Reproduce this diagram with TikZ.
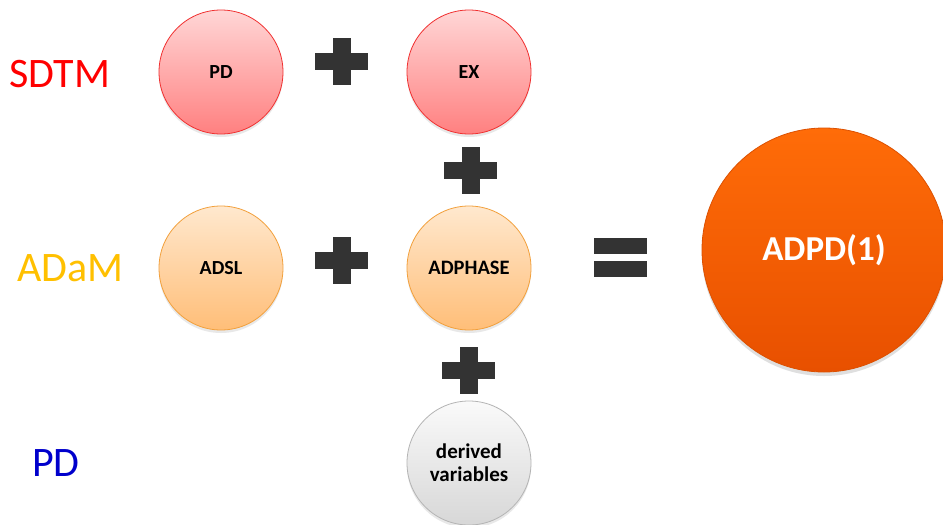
\documentclass[tikz,border=0pt]{standalone}
\usepackage{fontspec}
\setmainfont{Carlito}
\usetikzlibrary{shadows}
\definecolor{sdtmred}{HTML}{FF0000}
\definecolor{adamyel}{HTML}{FFC000}
\definecolor{pdblue}{HTML}{0000CC}
\definecolor{opdark}{HTML}{333333}
\definecolor{redborder}{HTML}{F03030}
\definecolor{redtop}{HTML}{FFD6D6}
\definecolor{redbot}{HTML}{FF8080}
\definecolor{oraborder}{HTML}{F2A03C}
\definecolor{oratop}{HTML}{FFE8CE}
\definecolor{orabot}{HTML}{FFBE78}
\definecolor{grayborder}{HTML}{B4B4B4}
\definecolor{graytop}{HTML}{FAFAFA}
\definecolor{graybot}{HTML}{D7D7D7}
\definecolor{bigborder}{HTML}{DC5000}
\definecolor{bigtop}{HTML}{FF6C08}
\definecolor{bigbot}{HTML}{E85000}
\tikzset{
  x=1pt, y=-1pt,
  bubble/.style={circle, minimum size=124pt, inner sep=0pt, line width=0.8pt,
    text=black, align=center,
    drop shadow={opacity=0.18, shadow xshift=0pt, shadow yshift=-3pt}},
  redb/.style={bubble, draw=redborder, top color=redtop, bottom color=redbot},
  orab/.style={bubble, draw=oraborder, top color=oratop, bottom color=orabot},
  grayb/.style={bubble, draw=grayborder, top color=graytop, bottom color=graybot},
  bigb/.style={circle, minimum size=244pt, inner sep=0pt, line width=0.8pt,
    draw=bigborder, top color=bigtop, bottom color=bigbot,
    font=\fontsize{35}{40}\selectfont\bfseries, text=white,
    drop shadow={opacity=0.25, shadow xshift=0pt, shadow yshift=-4pt}},
  rowlabel/.style={font=\fontsize{42}{48}\selectfont, anchor=west, inner sep=0pt},
  plussign/.pic={
    \fill[opdark] (-26.5,-8.5) rectangle (26.5,8.5);
    \fill[opdark] (-9,-23.5) rectangle (9,23.5);
  },
}
\begin{document}
\begin{tikzpicture}
\useasboundingbox (0,0) rectangle (943,525);
\fill[white] (0,0) rectangle (943,525);

% row labels
\node[rowlabel, text=sdtmred] (sdtm) at (9,74) {SDTM};
\node[rowlabel, text=adamyel] (adam) at (17,268) {ADaM};
\node[rowlabel, text=pdblue] (pdlab) at (32,463) {PD};

% circles
\node[redb, font=\fontsize{20}{24}\selectfont\bfseries] (pd) at (221,72) {PD};
\node[redb, font=\fontsize{20}{24}\selectfont\bfseries] (ex) at (469,72) {EX};
\node[orab, font=\fontsize{20}{24}\selectfont\bfseries] (adsl) at (221,268) {ADSL};
\node[orab, font=\fontsize{20.5}{24}\selectfont\bfseries] (adphase) at (469,268) {ADPHASE};
\node[grayb, font=\fontsize{21}{23}\selectfont\bfseries] (derived) at (469,463) {derived\\variables};
\node[bigb] (adpd) at (824,250) {ADPD(1)};

% operators
\pic at (341.5,61.5) {plussign};
\pic at (470.5,170) {plussign};
\pic at (341.5,260) {plussign};
\pic at (468.5,370) {plussign};
\fill[opdark] (594,238) rectangle (647,254);
\fill[opdark] (594,261) rectangle (647,277);
\end{tikzpicture}
\end{document}
